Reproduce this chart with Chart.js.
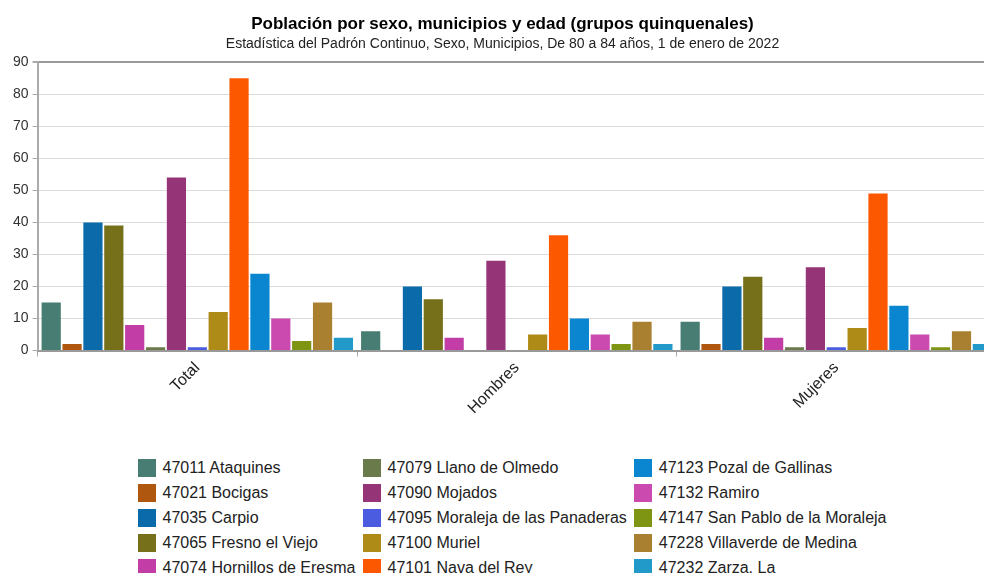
<!DOCTYPE html>
<html>
<head>
<meta charset="utf-8">
<title>Población por sexo, municipios y edad</title>
<script src="https://cdn.jsdelivr.net/npm/chart.js@4"></script>
<style>
  body { margin: 0; background: #fff; overflow: hidden; font-family: Arial, "Liberation Sans", sans-serif; }
  #wrap { position: relative; width: 1016px; height: 420px; }
  #legend {
    position: absolute; top: 455px; left: 0; width: 1024px;
    display: grid; grid-template-rows: repeat(5, 25px); grid-auto-flow: column;
    grid-auto-columns: max-content; justify-content: center; column-gap: 7px;
  }
  .item { display: flex; align-items: center; font-size: 16px; color: #222; }
  .item span { width: 18px; height: 18px; margin-right: 7px; display: inline-block; }
</style>
</head>
<body>
<div id="wrap"><canvas id="chart" width="1016" height="420"></canvas></div>
<div id="legend"></div>
<script>
// categorías del eje x
const categorias = ['Total', 'Hombres', 'Mujeres'];

// municipios (series)
const municipios = [
  '47011 Ataquines', '47021 Bocigas', '47035 Carpio', '47065 Fresno el Viejo',
  '47074 Hornillos de Eresma', '47079 Llano de Olmedo', '47090 Mojados',
  '47095 Moraleja de las Panaderas', '47100 Muriel', '47101 Nava del Rey',
  '47123 Pozal de Gallinas', '47132 Ramiro', '47147 San Pablo de la Moraleja',
  '47228 Villaverde de Medina', '47232 Zarza, La'
];

// población de 80 a 84 años, por municipio
const valoresTotal   = [15, 2, 40, 39, 8, 1, 54, 1, 12, 85, 24, 10, 3, 15, 4];
const valoresHombres = [6, 0, 20, 16, 4, 0, 28, 0, 5, 36, 10, 5, 2, 9, 2];
const valoresMujeres = [9, 2, 20, 23, 4, 1, 26, 1, 7, 49, 14, 5, 1, 6, 2];

const colores = [
  '#477d72', '#b0570f', '#0b6aa9', '#76701a', '#c23da6', '#6a7a4b', '#953477',
  '#4b5ce0', '#ae8a16', '#fc5800', '#0a86d0', '#cb4aaf', '#7e9514', '#a9802f', '#229ac9'
];

const fuente = 'Arial, "Liberation Sans", sans-serif';

const datasets = municipios.map((m, i) => ({
  label: m,
  data: [valoresTotal[i], valoresHombres[i], valoresMujeres[i]],
  backgroundColor: colores[i],
  borderWidth: 0,
  categoryPercentage: 0.98,
  barPercentage: 0.92
}));

const chart = new Chart(document.getElementById('chart').getContext('2d'), {
  type: 'bar',
  data: { labels: categorias, datasets: datasets },
  options: {
    responsive: false,
    animation: false,
    devicePixelRatio: 1,
    layout: { padding: { left: 9, right: 20, top: 12, bottom: 0 } },
    plugins: {
      legend: { display: false },
      tooltip: { enabled: false },
      title: {
        display: true,
        text: 'Población por sexo, municipios y edad (grupos quinquenales)',
        color: '#000',
        font: { family: fuente, size: 17, weight: 'bold' },
        padding: { top: 2, bottom: 1 }
      },
      subtitle: {
        display: true,
        text: 'Estadística del Padrón Continuo, Sexo, Municipios, De 80 a 84 años, 1 de enero de 2022',
        color: '#222',
        font: { family: fuente, size: 14 },
        padding: { bottom: 10 }
      }
    },
    scales: {
      x: {
        grid: { display: true, drawOnChartArea: false, drawTicks: true, tickLength: 6, tickColor: '#aaa', offset: true },
        border: { display: true, color: '#999', width: 2 },
        ticks: {
          maxRotation: 45, minRotation: 45, padding: 2, color: '#222',
          font: { family: fuente, size: 16 }
        }
      },
      y: {
        min: 0, max: 90,
        ticks: {
          stepSize: 10, padding: 4, color: '#333',
          font: { family: fuente, size: 14 }
        },
        grid: {
          color: ctx => ctx.tick && ctx.tick.value === 90 ? '#999' : '#dcdcdc',
          lineWidth: ctx => ctx.tick && ctx.tick.value === 90 ? 2 : 1,
          tickColor: '#aaa', tickLength: 5
        },
        border: { color: '#aaa', width: 2 }
      }
    }
  }
});

// leyenda en columnas, como en la imagen
const legend = document.getElementById('legend');
chart.data.datasets.forEach(ds => {
  const item = document.createElement('div');
  item.className = 'item';
  item.innerHTML = '<span style="background:' + ds.backgroundColor + '"></span>' + ds.label;
  legend.appendChild(item);
});
</script>
</body>
</html>
